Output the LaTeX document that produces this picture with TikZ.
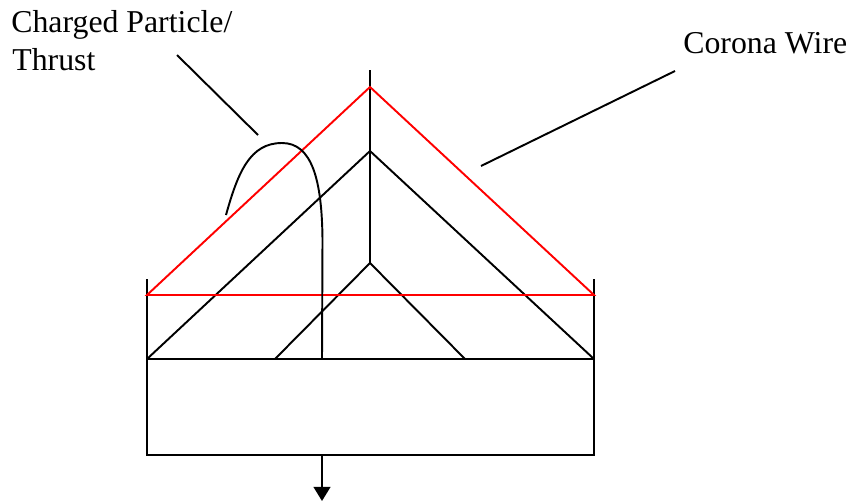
\documentclass[tikz,border=0pt]{standalone}
\usepackage{fontspec}
\setmainfont{Liberation Serif}
\usetikzlibrary{arrows.meta}
\definecolor{cRed}{HTML}{FF0000}

\begin{document}
\begin{tikzpicture}[
    x=0.02cm, y=-0.02cm,
    % --- Line styles ---
    wire/.style={line width=1.1pt, draw=black},
    hot/.style={line width=1.1pt, draw=cRed},
    arr/.style={wire, -{Triangle[length=8pt, width=9.5pt]}},
    % --- Label styles ---
    lbl/.style={font=\fontsize{18.1pt}{21.6pt}\selectfont, align=left, inner sep=0pt},
]
\useasboundingbox (0, 0) rectangle (852, 501);

% =============================================
% KEY POINTS
% =============================================

\coordinate (top) at (370, 70);
\coordinate (redapex) at (370, 87);
\coordinate (midapex) at (370, 151);
\coordinate (lowapex) at (370, 263);

\coordinate (redL) at (147, 295);
\coordinate (redR) at (594, 295);
\coordinate (wallL) at (147, 279);
\coordinate (wallR) at (594, 279);
\coordinate (baseL) at (147, 359);
\coordinate (baseR) at (594, 359);
\coordinate (lowL) at (275, 359);
\coordinate (lowR) at (465, 359);
\coordinate (floorL) at (147, 455);
\coordinate (floorR) at (594, 455);

\coordinate (thrustbase) at (322, 359);
\coordinate (thrustend) at (226, 215);
\coordinate (outtop) at (322, 455);
\coordinate (outend) at (322, 501);

% =============================================
% LABELS
% =============================================

\node[lbl, anchor=base west] (charged) at (11, 32) {Charged Particle/};
\node[lbl, anchor=base west] (thrust) at (12, 70.5) {Thrust};
\node[lbl, anchor=base west] (corona) at (683, 53) {Corona Wire};

% Leader lines
\coordinate (chargedA) at (177, 55);
\coordinate (chargedB) at (258, 135);
\coordinate (coronaA) at (675, 71);
\coordinate (coronaB) at (481, 166);
\draw[wire] (chargedA) -- (chargedB);
\draw[wire] (coronaA) -- (coronaB);

% =============================================
% BODY
% =============================================

% Housing
\draw[wire] (wallL) -- (floorL) -- (floorR) -- (wallR);
\draw[wire] (baseL) -- (baseR);

% Centre line and black cones
\draw[wire] (top) -- (lowapex);
\draw[wire] (baseL) -- (midapex) -- (baseR);
\draw[wire] (lowL) -- (lowapex) -- (lowR);

% Red wire triangle
\draw[hot] (redL) -- (redapex) -- (redR) -- cycle;

% Thrust path
\draw[wire] (thrustend) .. controls (238, 172) and (250, 143) .. (282, 143)
    .. controls (312, 143) and (322, 180) .. (322.5, 240) -- (thrustbase);

% Output arrow
\draw[arr] (outtop) -- (outend);

\end{tikzpicture}
\end{document}
